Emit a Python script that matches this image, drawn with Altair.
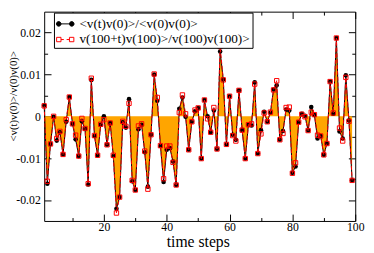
import altair as alt
import pandas as pd

steps = list(range(1, 100))

series_black = [
    0.0026, -0.0161, -0.0066, -0.0001, -0.0058, -0.0038, -0.0091, -0.0013, 0.0046, -0.0018,
    -0.0055, -0.0095, -0.0012, -0.0030, -0.0163, 0.0087, -0.0047, -0.0093, -0.0020, 0.0000,
    -0.0068, -0.0016, -0.0095, -0.0221, -0.0193, -0.0014, -0.0027, 0.0041, -0.0155, -0.0176,
    -0.0031, -0.0020, -0.0086, -0.0168, -0.0044, 0.0100, 0.0037, -0.0071, -0.0157, -0.0080,
    -0.0076, -0.0108, -0.0164, 0.0018, 0.0045, -0.0001, -0.0080, -0.0013, 0.0012, 0.0020,
    -0.0101, 0.0039, 0.0000, -0.0038, 0.0014, -0.0078, 0.0155, 0.0088, -0.0067, 0.0048,
    -0.0044, -0.0056, 0.0062, -0.0033, -0.0101, -0.0020, -0.0022, 0.0081, -0.0089, -0.0033,
    0.0011, -0.0013, 0.0009, 0.0064, 0.0074, -0.0056, -0.0035, 0.0016, 0.0014, -0.0135,
    -0.0120, -0.0014, 0.0006, 0.0001, -0.0034, 0.0022, 0.0003, -0.0053, -0.0047, -0.0092,
    -0.0065, 0.0083, 0.0006, 0.0187, -0.0036, -0.0053, 0.0098, -0.0010, -0.0153,
]

series_red = [
    0.0025, -0.0155, -0.0066, 0.0000, -0.0053, -0.0036, -0.0091, -0.0008, 0.0046, -0.0018,
    -0.0045, -0.0095, -0.0005, -0.0029, -0.0161, 0.0091, -0.0046, -0.0093, -0.0019, -0.0008,
    -0.0068, -0.0016, -0.0093, -0.0231, -0.0193, -0.0012, -0.0024, 0.0031, -0.0153, -0.0176,
    -0.0023, -0.0018, -0.0083, -0.0174, -0.0044, 0.0101, 0.0045, -0.0070, -0.0149, -0.0071,
    -0.0071, -0.0110, -0.0164, 0.0009, 0.0051, 0.0006, -0.0080, -0.0013, 0.0015, 0.0020,
    -0.0101, 0.0039, -0.0006, -0.0038, 0.0021, -0.0078, 0.0167, 0.0087, -0.0067, 0.0048,
    -0.0046, -0.0059, 0.0062, -0.0033, -0.0101, -0.0020, -0.0018, 0.0077, -0.0089, -0.0042,
    0.0008, -0.0013, 0.0010, 0.0063, 0.0085, -0.0056, -0.0041, 0.0021, 0.0022, -0.0136,
    -0.0111, -0.0014, 0.0005, -0.0001, -0.0034, 0.0010, 0.0004, -0.0045, -0.0047, -0.0092,
    -0.0065, 0.0083, 0.0008, 0.0187, -0.0028, -0.0059, 0.0093, -0.0012, -0.0153,
]

label_black = "<v(t)v(0)>/<v(0)v(0)>"
label_red = "v(100+t)v(100)>/v(100)v(100)>"

x_label_values = [20, 40, 60, 80, 100]
x_tick_values = [10, 20, 30, 40, 50, 60, 70, 80, 90, 100]
y_label_values = [-0.02, -0.01, 0, 0.01, 0.02]
y_tick_values = [-0.02, -0.015, -0.01, -0.005, 0, 0.005, 0.01, 0.015, 0.02]

df = pd.DataFrame({
    "t": steps + steps,
    "v": series_black + series_red,
    "series": [label_black] * len(steps) + [label_red] * len(steps),
})

FONT = "Liberation Serif"
W, H = 318, 214

xscale = alt.Scale(domain=[1, 100], nice=False, zero=False)
yscale = alt.Scale(domain=[-0.025, 0.025], nice=False, zero=False)

x_tick_size = {"condition": {"test": "datum.value % 20 === 0", "value": 7}, "value": 3.5}
y_tick_size = {"condition": {"test": "abs(datum.value*100 - round(datum.value*100)) < 1e-6", "value": 7}, "value": 3.5}

def tick_axis(orient, offset, values, size):
    return alt.Axis(orient=orient, offset=offset, values=values, labels=False, domain=False,
                    grid=False, title=None, tickColor="black", tickWidth=1, tickSize=size)

base = alt.Chart(df)
black = base.transform_filter(alt.datum.series == label_black)
red = base.transform_filter(alt.datum.series == label_red)

area = black.mark_area(color="#FFA500", opacity=1).encode(
    x=alt.X("t:Q", scale=xscale, axis=alt.Axis(
        orient="bottom", values=x_label_values, ticks=False, domain=False, grid=False,
        labelFont=FONT, labelFontSize=12, labelColor="black", labelPadding=9.5,
        labelBaseline="alphabetic", labelFlush=False,
        title="time steps", titleFont=FONT, titleFontSize=16, titleFontWeight="normal",
        titleColor="black", titleX=157, titleY=26, titleBaseline="alphabetic")),
    y=alt.Y("v:Q", scale=yscale, axis=alt.Axis(
        orient="left", values=y_label_values, ticks=False, domain=False, grid=False,
        labelFont=FONT, labelFontSize=12, labelColor="black", labelPadding=4,
        labelFlush=False, labelExpr="'' + datum.value",
        title="<v(t)v(0)>/v(0)v(0)>", titleFont=FONT, titleFontSize=11,
        titleFontWeight="normal", titleColor="black", titleX=-26, titleY=86)),
    y2=alt.datum(0),
)

line_black = black.mark_line(color="black", strokeWidth=1).encode(
    x=alt.X("t:Q", scale=xscale, axis=tick_axis("top", -H, x_tick_values, x_tick_size)),
    y=alt.Y("v:Q", scale=yscale, axis=tick_axis("right", -W, y_tick_values, y_tick_size)),
)

pts_black = black.mark_point(shape="circle", filled=True, color="black", size=22, opacity=1).encode(
    x=alt.X("t:Q", scale=xscale, axis=tick_axis("bottom", -H, x_tick_values, x_tick_size)),
    y=alt.Y("v:Q", scale=yscale, axis=tick_axis("left", -W, y_tick_values, y_tick_size)),
)

line_red = red.mark_line(color="#FF0000", strokeWidth=1, strokeDash=[4, 2]).encode(
    x=alt.X("t:Q", scale=xscale, axis=None),
    y=alt.Y("v:Q", scale=yscale, axis=None),
)

pts_red = red.mark_point(shape="square", filled=False, color="#FF0000", size=20,
                         strokeWidth=1, opacity=1).encode(
    x=alt.X("t:Q", scale=xscale, axis=None),
    y=alt.Y("v:Q", scale=yscale, axis=None),
)

path_black = ("M-0.48,0H0.48"
              "M-0.48,0A0.26,0.26,0,1,1,-1,0A0.26,0.26,0,1,1,-0.48,0Z"
              "M1,0A0.26,0.26,0,1,1,0.48,0A0.26,0.26,0,1,1,1,0Z")
path_red = ("M-0.48,0H-0.16M0.16,0H0.48"
            "M-0.98,-0.25H-0.48V0.25H-0.98Z"
            "M0.48,-0.25H0.98V0.25H0.48Z")

dom = [label_black, label_red]
legend_layer = base.mark_point(clip=True, size=324, strokeWidth=1, opacity=1).encode(
    x=alt.X("t:Q", scale=xscale, axis=None),
    y=alt.Y(datum=1.0, scale=yscale, axis=None),
    shape=alt.Shape("series:N", scale=alt.Scale(domain=dom, range=[path_black, path_red]), legend=alt.Legend(title=None)),
    fill=alt.Fill("series:N", scale=alt.Scale(domain=dom, range=["black", "white"]), legend=alt.Legend(title=None)),
    stroke=alt.Stroke("series:N", scale=alt.Scale(domain=dom, range=["black", "#FF0000"]), legend=alt.Legend(title=None)),
)

chart = alt.layer(area, line_black, pts_black, line_red, pts_red, legend_layer).resolve_axis(
    x="independent", y="independent"
).properties(
    width=W, height=H,
    padding={"left": 37, "top": 1, "right": 11, "bottom": 30},
    autosize=alt.AutoSizeParams(type="none"),
    background="white",
).configure_axis(
    labelFont=FONT, titleFont=FONT
).configure_view(
    stroke="black", strokeWidth=1
).configure_legend(
    orient="none", legendX=10, legendY=1, padding=2, strokeColor="black", strokeWidth=1,
    fillColor="white", labelFont=FONT, labelFontSize=13.5, labelColor="black",
    labelOffset=5, rowPadding=0, symbolSize=324, symbolStrokeWidth=1, labelLimit=400,
)

chart.save("out.html", embed_options={"renderer": "svg", "actions": False})
